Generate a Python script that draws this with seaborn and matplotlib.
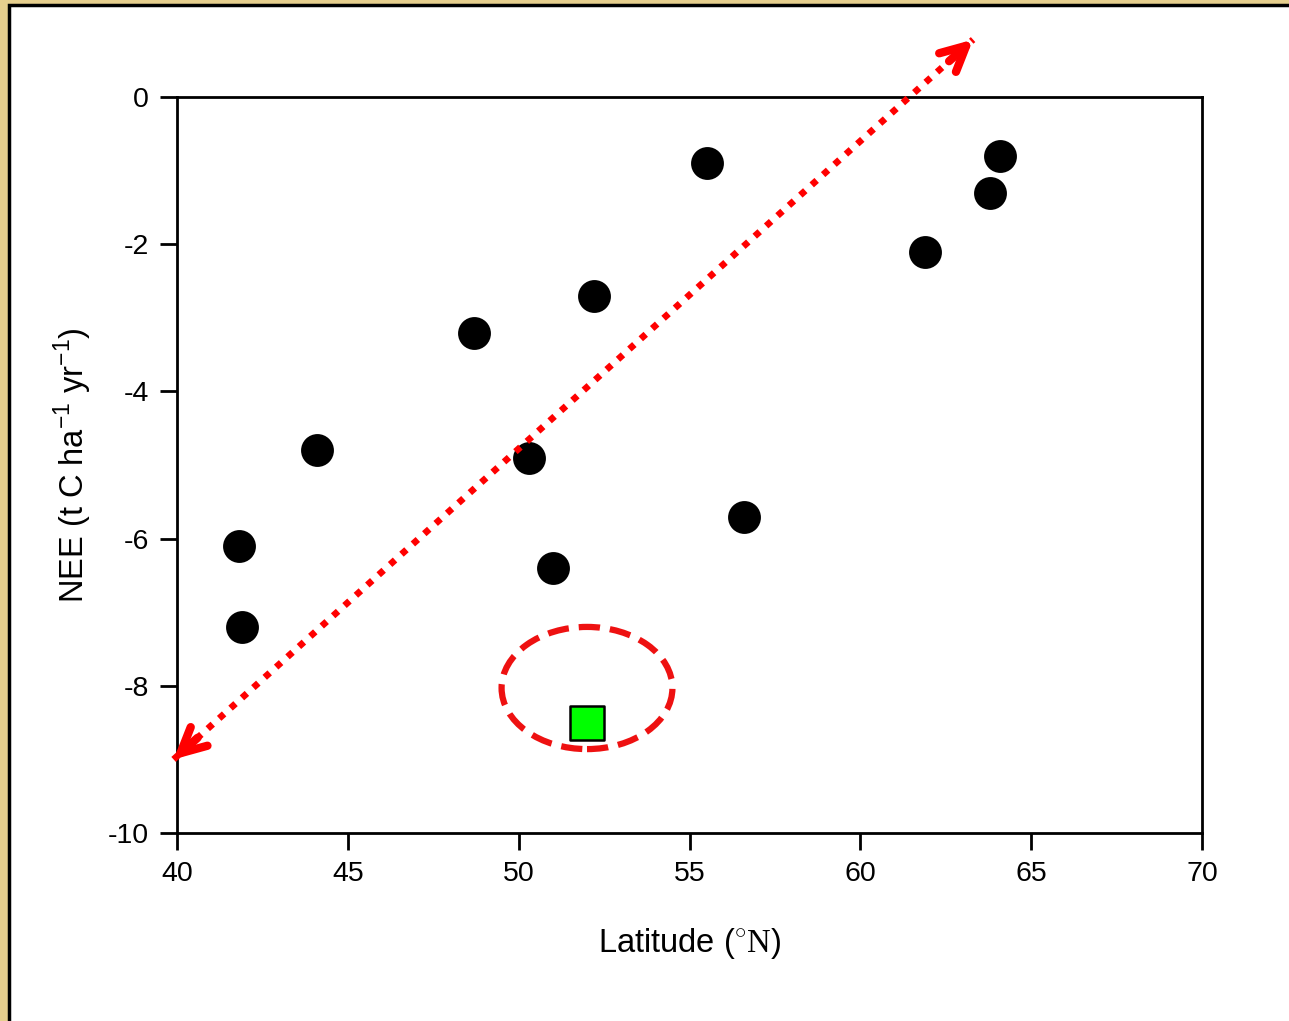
import matplotlib
matplotlib.use("Agg")
import matplotlib.pyplot as plt
import seaborn as sns
import pandas as pd
from matplotlib.patches import Ellipse, Rectangle

# Data
latitude = [41.8, 41.9, 44.1, 48.7, 50.3, 51.0, 52.2, 55.5, 56.6, 61.9, 63.8, 64.1]
nee = [-6.1, -7.2, -4.8, -3.2, -4.9, -6.4, -2.7, -0.9, -5.7, -2.1, -1.3, -0.8]
special_lat = [52.0]
special_nee = [-8.5]
arrow_start = (39.9, -9.0)
arrow_end = (63.3, 0.78)
ellipse_center = (52.0, -8.03)
ellipse_size = (5.0, 1.66)
xticks = [40, 45, 50, 55, 60, 65, 70]
yticks = [0, -2, -4, -6, -8, -10]

sns.set_style("white")
plt.rcParams['font.family'] = ['Liberation Sans', 'DejaVu Sans']
plt.rcParams['mathtext.fontset'] = 'custom'
plt.rcParams['mathtext.rm'] = 'Liberation Serif'
plt.rcParams['mathtext.sf'] = 'Liberation Sans'
plt.rcParams['axes.unicode_minus'] = False
plt.rcParams['text.color'] = 'black'
plt.rcParams['axes.labelcolor'] = 'black'
plt.rcParams['xtick.color'] = 'black'
plt.rcParams['ytick.color'] = 'black'

fig = plt.figure(figsize=(12.89, 10.21), dpi=100)
fig.patch.set_facecolor('#E6CF8E')
W, H = 1289, 1021
panel = Rectangle((9 / W, -0.1), 1.2, 1.1 - 5 / H, transform=fig.transFigure,
                  facecolor='white', edgecolor='black', linewidth=2.5, zorder=-10)
fig.add_artist(panel)

ax = fig.add_axes([177 / W, 1 - 833 / H, (1202 - 177) / W, (833 - 97) / H])
ax.set_zorder(5)
ax.set_facecolor('none')

df = pd.DataFrame({'lat': latitude, 'nee': nee})
sns.scatterplot(data=df, x='lat', y='nee', ax=ax, s=480, color='black',
                edgecolor='black', marker='o', zorder=3, legend=False)
df2 = pd.DataFrame({'lat': special_lat, 'nee': special_nee})
sns.scatterplot(data=df2, x='lat', y='nee', ax=ax, s=600, color='#00FF00',
                edgecolor='black', linewidth=1.8, marker='s', zorder=3, legend=False)

ax.add_patch(Ellipse(ellipse_center, ellipse_size[0], ellipse_size[1], fill=False,
                     edgecolor='#EE1111', linewidth=4.5, linestyle=(0, (3.4, 1.6)), zorder=4))

# dotted double arrow
ax.plot([arrow_start[0], arrow_end[0]], [arrow_start[1], arrow_end[1]],
        color='#FF0000', linewidth=4.8, linestyle=(0, (1, 1.3)), clip_on=False, zorder=4)
dx = arrow_end[0] - arrow_start[0]
dy = arrow_end[1] - arrow_start[1]
for tip, back in [(arrow_end, (arrow_end[0] - 0.03 * dx, arrow_end[1] - 0.03 * dy)),
                  (arrow_start, (arrow_start[0] + 0.03 * dx, arrow_start[1] + 0.03 * dy))]:
    ax.annotate('', xy=tip, xytext=back, annotation_clip=False,
                arrowprops=dict(arrowstyle='->,head_length=1.8,head_width=0.9',
                                color='#FF0000', lw=6, capstyle='round',
                                joinstyle='round', shrinkA=0, shrinkB=0), zorder=5)

ax.set_xlim(40, 70)
ax.set_ylim(-10, 0)
ax.set_xticks(xticks)
ax.set_yticks(yticks)
ax.tick_params(direction='out', length=12, width=2, labelsize=20.5, pad=8, color='black',
               labelcolor='black', left=True, bottom=True)
for sp in ax.spines.values():
    sp.set_linewidth(2)
    sp.set_color('black')

ax.set_xlabel(r"Latitude ($^{\circ}\mathrm{N}$)", fontsize=23.5, labelpad=28)
ax.set_ylabel(r"NEE (t C ha$^{\mathsf{-1}}$ yr$^{\mathsf{-1}}$)", fontsize=23.5, labelpad=10)

fig.savefig('out.png', dpi=100, facecolor=fig.get_facecolor())
